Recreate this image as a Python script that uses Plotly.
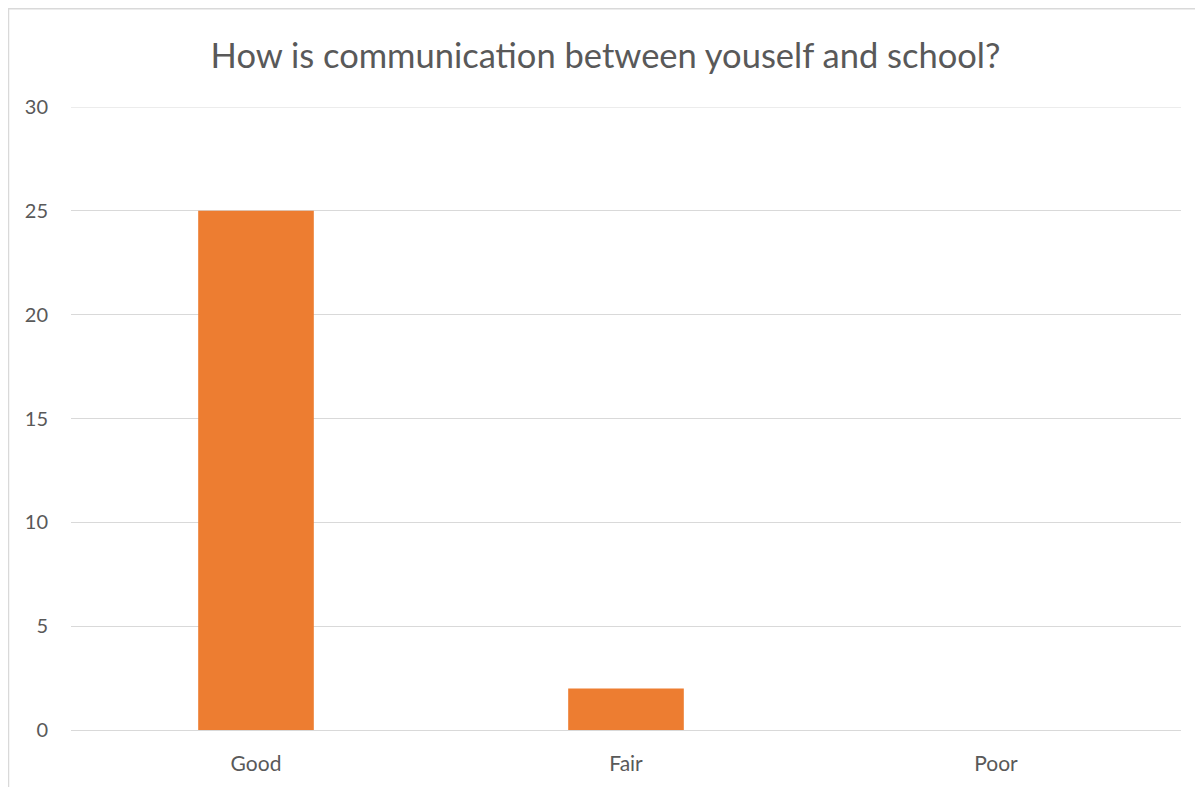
import plotly.graph_objects as go

categories = ["Good", "Fair", "Poor"]
counts = [25, 2, 0]
y_ticks = [0, 5, 10, 15, 20, 25, 30]
title_text = "How is communication between youself and school?"

# page is offset by the default 8px body margin
W, H = 1195, 779
ml, mr, mt, mb = 63, 22, 99, 55
pw, ph = W - ml - mr, H - mt - mb
grid_color = "#D9D9D9"

def px_x(x):
    return (x - ml) / pw

def px_y(y):
    return (H - mb - y) / ph

fig = go.Figure(go.Bar(x=categories, y=counts, marker_color="#ED7D31",
                       marker_line_width=0))

fig.update_layout(
    width=W, height=H,
    margin=dict(l=ml, r=mr, t=mt, b=mb),
    paper_bgcolor="white", plot_bgcolor="white",
    font=dict(family="Lato, Carlito, sans-serif", color="#595959", size=21),
    bargap=0.6875,
    showlegend=False,
    title=dict(text=title_text, x=0.5, xanchor="center", xref="container",
               y=1 - 48 / H, yanchor="middle",
               font=dict(size=34.5, color="#595959")),
    shapes=[
        dict(type="rect", xref="paper", yref="paper",
             x0=px_x(0.5), x1=px_x(1215), y0=px_y(800), y1=px_y(0.5),
             line=dict(color=grid_color, width=1.5), layer="below"),
        dict(type="line", xref="paper", yref="y", x0=0, x1=1,
             y0=y_ticks[-1], y1=y_ticks[-1],
             line=dict(color=grid_color, width=1), layer="below"),
    ],
)
fig.update_xaxes(showgrid=False, showline=False, ticks="", zeroline=False,
                 ticklabelstandoff=19,
                 tickfont=dict(size=21, color="#595959"))
fig.update_yaxes(range=[0, 30], tickvals=y_ticks, showgrid=True,
                 gridcolor=grid_color, gridwidth=1, zeroline=True,
                 zerolinecolor=grid_color, zerolinewidth=1, showline=False,
                 ticks="", ticklabelstandoff=22,
                 tickfont=dict(size=20, color="#595959"))

fig.write_html("out.html")
